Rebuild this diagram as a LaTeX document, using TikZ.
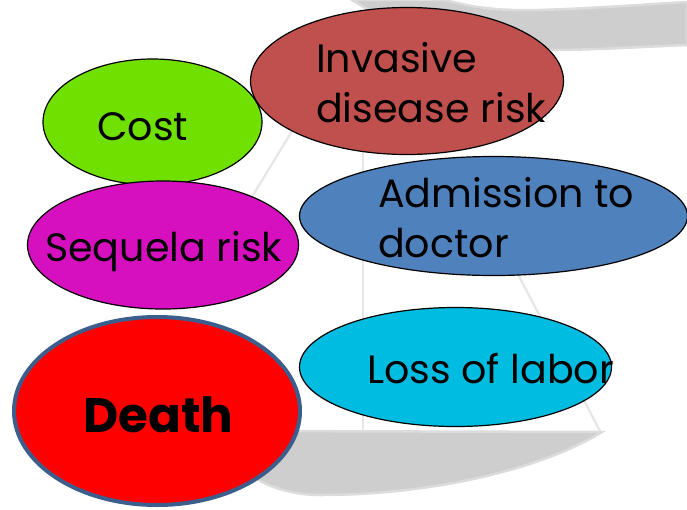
\documentclass[tikz,border=0pt]{standalone}
\usepackage{fontspec}
\setmainfont{Poppins}
\usetikzlibrary{shapes.geometric}

\definecolor{costgreen}{RGB}{112,224,0}
\definecolor{invred}{RGB}{192,80,77}
\definecolor{seqmag}{RGB}{214,16,190}
\definecolor{admblue}{RGB}{79,129,189}
\definecolor{losscyan}{RGB}{0,188,224}
\definecolor{deathred}{RGB}{255,0,0}
\definecolor{deathrim}{RGB}{60,94,140}
\definecolor{scalegray}{RGB}{206,206,206}
\definecolor{scaleedge}{RGB}{220,220,220}
\definecolor{scaleline}{RGB}{230,230,230}

\begin{document}
\begin{tikzpicture}[x=1pt,y=-1pt,
  bubble/.style={ellipse, draw=black, line width=1.2pt, inner sep=0pt},
  lbl/.style={anchor=base west, inner sep=0pt, font=\fontsize{39.6}{48}\selectfont},
  rod/.style={draw=scaleline, line width=2.2pt},
  pan/.style={fill=scalegray, draw=scaleedge, line width=2.5pt}]
\useasboundingbox (0,0) rectangle (687,509);

% faint balance scale in the background
\filldraw[pan] (352,0) -- (445,0) .. controls (475,8) and (500,11) .. (540,10)
  .. controls (600,8) and (650,4) .. (687,2) -- (687,45)
  .. controls (640,47) and (590,50) .. (550,50)
  .. controls (460,46) and (390,25) .. (352,0) -- cycle;
\filldraw[pan] (245,431) -- (602,432) .. controls (540,470) and (430,495) .. (320,495)
  .. controls (290,495) and (260,485) .. (245,470) -- cycle;
\draw[rod] (300,118) -- (250,200);
\draw[rod] (363,140) -- (363,431);
\draw[rod] (478,198) -- (600,431);

% bubbles
\node[bubble, fill=costgreen, minimum width=219pt, minimum height=126pt] (cost) at (152.5,122) {};
\node[lbl] (costtxt) at (97,140) {Cost};

\node[bubble, fill=invred, minimum width=313pt, minimum height=147pt] (invasive) at (407,81) {};
\node[lbl] (invtxta) at (316,72) {Invasive};
\node[lbl] (invtxtb) at (316,122) {disease risk};

\node[bubble, fill=seqmag, minimum width=271pt, minimum height=128pt] (sequela) at (163,245) {};
\node[lbl] (seqtxt) at (45,261) {Sequela risk};

\node[bubble, fill=admblue, minimum width=388pt, minimum height=119pt] (admission) at (493.5,216) {};
\node[lbl] (admtxta) at (378,207) {Admission to};
\node[lbl] (admtxtb) at (378,257) {doctor};

\node[bubble, fill=losscyan, minimum width=312pt, minimum height=119pt] (loss) at (455.5,367) {};
\node[lbl] (losstxt) at (367,383) {Loss of labor};

\node[bubble, fill=deathred, draw=deathrim, line width=4pt, minimum width=286pt, minimum height=188pt] (death) at (157,411) {};
\node[anchor=base west, inner sep=0pt, font=\fontsize{48.4}{58}\selectfont\bfseries] (deathtxt) at (83,432) {Death};
\end{tikzpicture}
\end{document}
